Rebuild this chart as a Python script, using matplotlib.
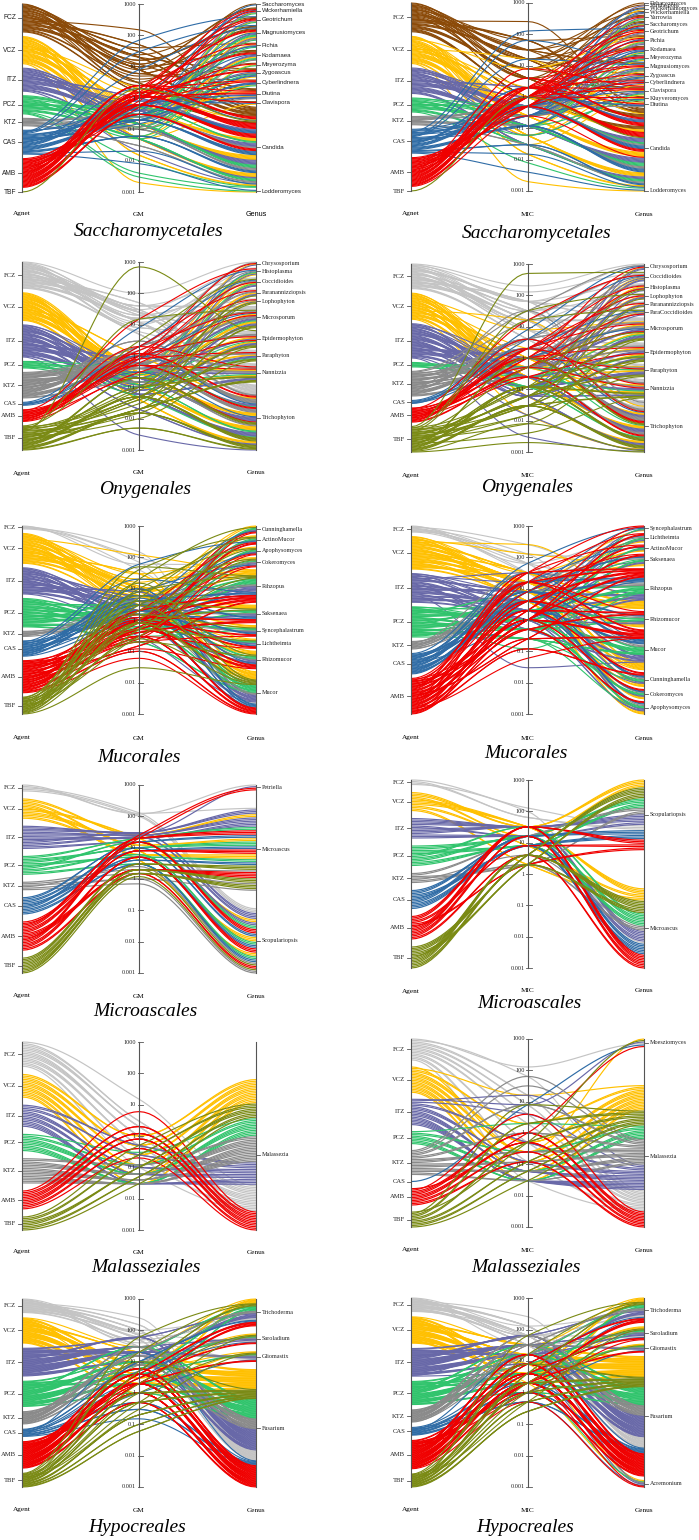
import matplotlib
matplotlib.use("Agg")
import matplotlib.pyplot as plt
from matplotlib.collections import LineCollection
import numpy as np

W, H = 699, 1540
AGENTS = ["FCZ", "VCZ", "ITZ", "PCZ", "KTZ", "CAS", "AMB", "TBF"]
REV = ["VCZ", "TBF", "PCZ", "KTZ", "ITZ", "FCZ", "CAS", "AMB"]
MIC_TICKS = [1000, 100, 10, 1, 0.1, 0.01, 0.001]
MIC_LABELS = ["1000", "100", "10", "1", "0.1", "0.01", "0.001"]

colors = {"FCZ": "#c4c4c4", "VCZ": "#ffc000", "ITZ": "#6868a8", "PCZ": "#30c46c",
          "KTZ": "#8a8a8a", "CAS": "#2f6ca6", "AMB": "#f00000", "TBF": "#7a8a14"}
fcz_brown = "#8b4a08"

# data: agent -> (genus index, GM/MIC value, number of isolates)
sac_gm_genera = ["Saccharomyces", "Wickerhamiella", "Geotrichum", "Magnusiomyces", "Pichia",
                 "Kodamaea", "Meyerozyma", "Zygoascus", "Cyberlindnera", "Diutina",
                 "Clavispora", "Candida", "Lodderomyces"]
sac_gm = {
    "FCZ": [(0, 3.2, 1), (1, 12, 2), (2, 24, 1), (2, 8, 1), (3, 16, 2), (3, 6, 2), (4, 40, 1), (5, 10, 2),
            (5, 4, 1), (6, 2.5, 1), (7, 20, 1), (7, 5, 1), (8, 6, 1), (9, 30, 2), (9, 12, 1), (10, 2, 1),
            (11, 150, 1), (11, 50, 2), (11, 20, 3), (11, 8, 4), (11, 3, 2), (11, 1.5, 2)],
    "VCZ": [(1, 0.3, 1), (2, 0.25, 1), (3, 0.5, 1), (3, 0.12, 2), (4, 0.6, 1), (5, 0.2, 2), (6, 0.06, 1),
            (7, 0.4, 1), (7, 0.1, 1), (8, 0.15, 1), (9, 1.5, 1), (9, 0.5, 1), (10, 0.05, 1), (11, 2, 1),
            (11, 0.5, 4), (11, 0.15, 6), (11, 0.05, 5), (11, 0.015, 2), (12, 0.002, 1)],
    "ITZ": [(1, 0.4, 1), (2, 0.5, 1), (3, 0.3, 2), (3, 0.12, 1), (4, 0.6, 1), (5, 0.25, 2), (7, 0.5, 1),
            (7, 0.2, 1), (8, 0.25, 1), (9, 0.8, 1), (9, 0.4, 1), (11, 1, 2), (11, 0.4, 5), (11, 0.15, 6),
            (11, 0.05, 2), (11, 0.02, 1)],
    "PCZ": [(1, 0.25, 1), (2, 0.2, 1), (3, 0.3, 2), (3, 0.06, 1), (4, 0.3, 1), (5, 0.12, 2), (6, 0.05, 1),
            (7, 0.25, 1), (8, 0.1, 1), (11, 0.5, 2), (11, 0.15, 4), (11, 0.05, 3), (11, 0.01, 1),
            (11, 0.004, 1), (12, 0.003, 1)],
    "KTZ": [(3, 0.12, 1), (5, 0.1, 1), (9, 0.25, 1), (11, 0.3, 2), (11, 0.1, 3), (11, 0.03, 2)],
    "CAS": [(0, 0.4, 1), (1, 1, 1), (2, 70, 1), (3, 30, 1), (3, 8, 1), (3, 0.5, 1), (4, 0.6, 1), (5, 0.5, 1),
            (7, 0.3, 1), (7, 0.15, 1), (8, 0.2, 2), (9, 0.6, 1), (9, 0.3, 1), (10, 0.8, 1), (11, 2, 1),
            (11, 0.6, 4), (11, 0.2, 5), (11, 0.06, 3), (11, 0.02, 1), (12, 0.008, 1)],
    "AMB": [(1, 1.5, 1), (1, 0.5, 1), (2, 2, 1), (2, 0.8, 1), (3, 1.2, 2), (4, 2, 1), (5, 1, 2), (6, 0.6, 1),
            (7, 1, 2), (8, 1.5, 1), (8, 0.6, 1), (9, 2.5, 1), (9, 1, 2), (10, 1.5, 1), (11, 2.5, 3),
            (11, 1.2, 7), (11, 0.6, 5), (11, 0.3, 3)],
    "TBF": [(11, 2, 1)],
}

sac_mic_genera = ["Debaryomyces", "Torulaspora", "Wickerhamomyces", "Wickerhamiella", "Yarrowia",
                  "Saccharomyces", "Geotrichum", "Pichia", "Kodamaea", "Meyerozyma", "Magnusiomyces",
                  "Zygoascus", "Cyberlindnera", "Clavispora", "Kluyveromyces", "Diutina", "Candida",
                  "Lodderomyces"]
sac_mic = {
    "FCZ": [(0, 8, 1), (1, 16, 1), (2, 4, 1), (3, 32, 1), (4, 16, 2), (5, 8, 1), (5, 2, 1), (6, 32, 1),
            (7, 64, 1), (7, 16, 1), (8, 8, 2), (9, 4, 1), (10, 32, 2), (11, 16, 1), (12, 8, 1), (13, 4, 2),
            (14, 32, 1), (15, 64, 1), (16, 256, 1), (16, 64, 2), (16, 16, 3), (16, 4, 4), (16, 1, 4)],
    "VCZ": [(2, 0.12, 1), (4, 0.25, 1), (5, 0.5, 1), (6, 1, 1), (7, 8, 1), (7, 0.25, 1), (8, 0.12, 1),
            (9, 0.06, 1), (10, 0.5, 1), (10, 0.12, 1), (11, 0.25, 1), (12, 0.06, 1), (13, 0.5, 1),
            (13, 0.03, 1), (14, 0.25, 1), (15, 2, 1), (16, 16, 1), (16, 1, 3), (16, 0.25, 6),
            (16, 0.06, 5), (16, 0.015, 2), (17, 0.002, 1)],
    "ITZ": [(1, 0.5, 1), (3, 0.25, 1), (4, 0.5, 1), (5, 1, 1), (6, 0.5, 1), (7, 0.5, 1), (7, 0.12, 1),
            (8, 0.25, 1), (9, 0.25, 1), (10, 0.5, 1), (10, 0.25, 1), (11, 0.5, 1), (12, 0.25, 1),
            (13, 0.25, 1), (13, 0.06, 1), (15, 1, 1), (16, 2, 2), (16, 0.5, 5), (16, 0.12, 6),
            (16, 0.03, 3)],
    "PCZ": [(4, 0.25, 1), (5, 0.5, 1), (7, 0.25, 1), (8, 0.12, 1), (9, 0.12, 1), (10, 0.25, 1),
            (13, 0.06, 1), (14, 0.12, 1), (16, 0.5, 2), (16, 0.12, 4), (16, 0.03, 3), (16, 0.008, 1)],
    "KTZ": [(6, 0.5, 1), (7, 0.25, 1), (10, 0.25, 1), (15, 0.5, 1), (16, 0.5, 2), (16, 0.12, 3),
            (16, 0.03, 2)],
    "CAS": [(2, 1, 1), (3, 0.5, 1), (5, 0.25, 1), (6, 128, 1), (7, 0.5, 1), (8, 0.25, 1), (8, 0.5, 1),
            (9, 1, 1), (10, 64, 1), (10, 16, 1), (11, 0.25, 1), (11, 0.12, 1), (12, 0.5, 1), (13, 0.5, 1),
            (14, 0.25, 1), (15, 1, 1), (16, 2, 2), (16, 0.5, 4), (16, 0.12, 4), (16, 0.03, 2),
            (16, 0.015, 1), (17, 0.004, 1)],
    "AMB": [(4, 1, 1), (5, 0.5, 1), (6, 2, 1), (6, 1, 1), (7, 1, 1), (7, 0.5, 1), (8, 2, 1), (8, 1, 1),
            (9, 1, 1), (9, 0.5, 1), (10, 2, 1), (10, 1, 1), (11, 1, 1), (12, 2, 1), (12, 0.5, 1),
            (13, 8, 1), (13, 2, 1), (13, 1, 1), (14, 1, 1), (15, 2, 1), (16, 4, 2), (16, 2, 4),
            (16, 1, 6), (16, 0.5, 3), (16, 0.25, 1)],
    "TBF": [(16, 1, 1)],
}

ony_gm_genera = ["Chrysosporium", "Histoplasma", "Coccidioides", "Paranannizziopsis", "Lophophyton",
                 "Microsporum", "Epidermophyton", "Paraphyton", "Nannizzia", "Trichophyton"]
ony_gm = {
    "FCZ": [(0, 100, 1), (1, 30, 1), (1, 10, 1), (2, 40, 1), (2, 15, 1), (3, 20, 2), (4, 12, 1), (5, 40, 2),
            (5, 16, 3), (6, 25, 2), (6, 8, 2), (7, 20, 2), (7, 6, 1), (8, 30, 2), (8, 12, 2), (9, 50, 2),
            (9, 25, 4), (9, 12, 4), (9, 5, 3)],
    "VCZ": [(0, 0.5, 1), (1, 0.3, 1), (1, 0.1, 1), (2, 0.5, 1), (2, 0.2, 1), (3, 0.25, 2), (4, 0.15, 1),
            (5, 0.6, 2), (5, 0.2, 3), (6, 0.3, 2), (6, 0.1, 2), (7, 0.25, 2), (8, 0.4, 2), (8, 0.12, 2),
            (9, 1, 2), (9, 0.3, 5), (9, 0.12, 6), (9, 0.04, 3)],
    "ITZ": [(0, 0.3, 1), (1, 0.5, 1), (1, 0.15, 1), (2, 0.2, 2), (3, 0.12, 2), (4, 0.1, 1), (5, 0.4, 3),
            (5, 0.1, 3), (6, 0.3, 2), (6, 0.08, 3), (7, 0.15, 3), (8, 0.3, 2), (8, 0.06, 3), (9, 0.6, 3),
            (9, 0.2, 6), (9, 0.06, 6), (9, 0.02, 2), (9, 0.003, 1)],
    "PCZ": [(1, 0.5, 1), (2, 0.25, 1), (5, 0.3, 1), (6, 0.2, 1), (7, 0.1, 1), (8, 0.15, 1), (9, 0.5, 1),
            (9, 0.12, 2), (9, 0.05, 1)],
    "KTZ": [(0, 2, 1), (1, 1.5, 1), (2, 1, 2), (3, 0.8, 2), (4, 0.6, 1), (5, 2, 2), (5, 0.5, 3), (6, 1, 3),
            (7, 0.6, 2), (8, 1.2, 2), (8, 0.4, 2), (9, 3, 2), (9, 1, 6), (9, 0.4, 5), (9, 0.15, 2)],
    "CAS": [(1, 8, 1), (2, 2, 1), (5, 0.8, 1), (9, 1, 1), (9, 0.3, 1)],
    "AMB": [(0, 1, 1), (1, 15, 1), (2, 0.8, 1), (3, 2, 1), (4, 1, 1), (5, 1.5, 1), (5, 0.6, 1), (6, 1, 1),
            (6, 0.3, 1), (7, 0.8, 1), (8, 2, 1), (8, 0.5, 1), (9, 1.2, 2), (9, 0.5, 2), (9, 0.2, 1)],
    "TBF": [(2, 3, 1), (3, 0.05, 1), (4, 0.1, 1), (4, 0.03, 1), (5, 15, 1), (5, 0.08, 1), (5, 0.02, 2),
            (6, 700, 1), (6, 0.05, 2), (6, 0.015, 1), (7, 0.04, 2), (7, 0.01, 1), (8, 0.1, 2),
            (8, 0.02, 3), (9, 0.2, 3), (9, 0.05, 5), (9, 0.015, 4), (9, 0.005, 2)],
}

ony_mic_genera = ["Chrysosporium", "Coccidioides", "Histoplasma", "Lophophyton", "Paranannizziopsis",
                  "ParaCoccidioides", "Microsporum", "Epidermophyton", "Paraphyton", "Nannizzia",
                  "Trichophyton"]
ony_mic = {
    "FCZ": [(0, 200, 1), (0, 64, 1), (1, 128, 1), (1, 32, 1), (2, 64, 1), (2, 16, 1), (3, 32, 1),
            (4, 16, 1), (5, 64, 1), (6, 64, 2), (6, 16, 3), (7, 32, 2), (7, 8, 2), (8, 16, 3), (9, 32, 2),
            (9, 8, 2), (10, 64, 2), (10, 16, 4), (10, 4, 3)],
    "VCZ": [(0, 0.5, 1), (1, 1, 1), (1, 0.25, 1), (2, 0.5, 2), (3, 0.25, 1), (4, 0.12, 1), (5, 0.5, 1),
            (6, 8, 1), (6, 1, 2), (6, 0.25, 2), (7, 0.5, 2), (7, 0.12, 2), (8, 2, 1), (8, 0.25, 2),
            (9, 0.5, 2), (9, 0.12, 2), (10, 16, 1), (10, 1, 3), (10, 0.25, 4), (10, 0.06, 3),
            (10, 0.015, 1)],
    "ITZ": [(0, 0.5, 1), (0, 0.12, 1), (1, 1, 1), (1, 0.25, 2), (2, 0.5, 1), (2, 0.06, 1), (3, 0.25, 2),
            (4, 0.12, 2), (5, 0.5, 1), (5, 0.12, 1), (6, 0.5, 3), (6, 0.12, 4), (7, 0.25, 3), (7, 0.06, 2),
            (8, 0.12, 4), (9, 0.25, 3), (9, 0.06, 2), (10, 1, 3), (10, 0.25, 5), (10, 0.06, 3),
            (10, 0.015, 1), (10, 0.003, 1)],
    "PCZ": [(6, 0.25, 1), (7, 0.12, 1), (8, 0.5, 1), (9, 0.25, 1), (10, 0.5, 1), (10, 0.12, 2)],
    "KTZ": [(0, 32, 1), (1, 16, 1), (1, 2, 1), (2, 4, 1), (3, 1, 1), (4, 2, 1), (5, 1, 1), (6, 4, 2),
            (6, 1, 3), (7, 2, 2), (7, 0.5, 2), (8, 1, 2), (9, 2, 2), (9, 0.5, 2), (10, 32, 1), (10, 4, 3),
            (10, 1, 5), (10, 0.25, 3)],
    "CAS": [(0, 8, 1), (1, 4, 1), (5, 2, 1), (6, 1, 1), (10, 2, 1)],
    "AMB": [(0, 1, 1), (1, 16, 1), (2, 2, 1), (2, 0.5, 1), (3, 1, 1), (4, 2, 1), (5, 0.5, 1), (6, 2, 1),
            (6, 0.5, 1), (7, 1, 1), (7, 0.25, 1), (8, 1, 1), (9, 2, 1), (9, 0.5, 1), (10, 4, 1),
            (10, 1, 3), (10, 0.25, 2)],
    "TBF": [(1, 500, 1), (2, 0.12, 1), (3, 32, 1), (3, 0.06, 1), (4, 0.03, 1), (5, 16, 1), (6, 0.5, 1),
            (6, 0.06, 2), (6, 0.015, 1), (7, 0.12, 2), (7, 0.03, 2), (7, 0.008, 1), (8, 0.06, 2),
            (8, 0.015, 1), (9, 0.12, 2), (9, 0.03, 2), (9, 0.004, 1), (10, 1, 2), (10, 0.12, 4),
            (10, 0.03, 4), (10, 0.008, 1), (10, 0.002, 1)],
}

muc_gm_genera = ["Cunninghamella", "ActinoMucor", "Apophysomyces", "Cokeromyces", "Rihzopus",
                 "Saksenaea", "Syncephalastrum", "Lichtheimta", "Rhizomucor", "Mucor"]
muc_gm = {
    "FCZ": [(3, 60, 1), (4, 100, 1), (7, 40, 1), (9, 150, 1), (9, 70, 1)],
    "VCZ": [(0, 8, 1), (0, 3, 1), (1, 16, 1), (1, 4, 1), (2, 10, 1), (2, 5, 1), (3, 30, 1), (3, 6, 1),
            (4, 120, 1), (4, 20, 2), (4, 8, 3), (4, 3, 2), (5, 12, 2), (5, 4, 3), (6, 6, 2), (6, 2, 1),
            (7, 8, 1), (7, 3, 1), (8, 10, 2), (8, 3, 3), (9, 30, 2), (9, 10, 4), (9, 4, 3), (9, 1.5, 2)],
    "ITZ": [(0, 2, 1), (0, 0.8, 1), (1, 3, 1), (1, 1, 1), (2, 1.5, 2), (3, 4, 1), (3, 1, 1), (4, 6, 2),
            (4, 2, 3), (4, 0.8, 2), (5, 3, 2), (5, 1, 2), (6, 2, 2), (7, 1.5, 2), (8, 4, 2), (8, 1, 2),
            (9, 8, 2), (9, 3, 4), (9, 1, 3), (9, 0.3, 1)],
    "PCZ": [(0, 1, 1), (0, 0.4, 1), (1, 1.5, 1), (1, 0.5, 1), (2, 0.8, 2), (3, 2, 1), (3, 0.6, 1),
            (4, 3, 2), (4, 1, 4), (4, 0.4, 2), (5, 1.5, 2), (5, 0.5, 2), (6, 1, 2), (6, 0.3, 1),
            (7, 0.8, 2), (8, 2, 2), (8, 0.6, 2), (9, 4, 2), (9, 1.5, 4), (9, 0.6, 3), (9, 0.2, 2)],
    "KTZ": [(3, 2, 1), (4, 3, 1), (4, 1, 1), (5, 1.5, 1), (6, 0.8, 1), (8, 2, 1), (9, 4, 1), (9, 1, 1)],
    "CAS": [(0, 3, 1), (1, 60, 1), (2, 2, 1), (3, 8, 1), (4, 20, 1), (4, 4, 2), (4, 1, 1), (5, 6, 2),
            (5, 1.5, 1), (6, 3, 2), (7, 2, 2), (8, 5, 1), (8, 1, 1), (9, 10, 2), (9, 3, 2), (9, 0.8, 1)],
    "AMB": [(0, 1, 1), (0, 0.3, 1), (1, 2, 1), (1, 0.6, 2), (2, 0.8, 1), (2, 0.25, 1), (3, 1, 1),
            (3, 0.3, 1), (4, 2, 2), (4, 1, 3), (4, 0.5, 3), (4, 0.15, 2), (5, 1.2, 2), (5, 0.4, 3),
            (6, 0.8, 2), (6, 0.2, 1), (7, 1, 2), (7, 0.3, 1), (8, 1.5, 2), (8, 0.5, 3), (8, 0.12, 1),
            (9, 0.8, 3), (9, 0.3, 3), (9, 0.1, 2), (9, 0.06, 1)],
    "TBF": [(0, 20, 1), (1, 40, 1), (1, 5, 1), (2, 10, 1), (2, 1, 1), (3, 3, 1), (3, 0.5, 1), (4, 50, 1),
            (4, 8, 1), (4, 2, 1), (4, 0.3, 1), (5, 4, 1), (5, 0.8, 1), (6, 1.5, 1), (7, 0.5, 1), (8, 6, 1),
            (8, 0.2, 1), (9, 15, 1), (9, 3, 2), (9, 0.8, 2), (9, 0.25, 1), (9, 0.03, 1)],
}

muc_mic_genera = ["Syncephalastrum", "Lichtheimta", "ActinoMucor", "Saksenaea", "Rihzopus",
                  "Rhizomucor", "Mucor", "Cunninghamella", "Cokeromyces", "Apophysomyces"]
muc_mic = {
    "FCZ": [(1, 64, 1), (3, 128, 1), (4, 256, 1), (4, 64, 1), (5, 32, 1), (6, 128, 1), (6, 64, 1),
            (7, 64, 1), (9, 32, 1)],
    "VCZ": [(0, 16, 1), (1, 32, 1), (1, 8, 1), (2, 16, 2), (3, 128, 1), (3, 16, 2), (4, 256, 1),
            (4, 32, 3), (4, 16, 4), (4, 8, 3), (5, 16, 2), (5, 8, 2), (6, 32, 2), (6, 16, 4), (6, 8, 3),
            (6, 4, 1), (7, 16, 2), (7, 4, 2), (8, 8, 3), (9, 16, 2), (9, 4, 2)],
    "ITZ": [(0, 4, 1), (1, 8, 1), (1, 2, 1), (2, 4, 1), (3, 16, 1), (3, 2, 2), (4, 32, 1), (4, 8, 3),
            (4, 2, 3), (4, 0.5, 2), (5, 4, 2), (5, 1, 2), (6, 8, 3), (6, 2, 4), (6, 0.5, 2), (6, 0.03, 1),
            (7, 4, 2), (7, 1, 1), (8, 2, 2), (9, 4, 2), (9, 1, 2)],
    "PCZ": [(0, 1, 1), (1, 2, 1), (1, 0.5, 1), (2, 1, 2), (3, 4, 1), (3, 1, 2), (4, 8, 2), (4, 2, 4),
            (4, 0.5, 3), (4, 0.12, 1), (5, 2, 2), (5, 0.5, 2), (6, 4, 2), (6, 1, 5), (6, 0.25, 3),
            (7, 1, 2), (7, 0.25, 1), (8, 0.5, 3), (9, 1, 2), (9, 0.25, 1)],
    "KTZ": [(1, 8, 1), (3, 16, 1), (4, 32, 1), (4, 8, 2), (5, 4, 1), (6, 16, 1), (6, 4, 1), (7, 8, 1),
            (8, 2, 1), (9, 4, 1)],
    "CAS": [(0, 64, 1), (0, 8, 1), (1, 4, 1), (2, 16, 1), (3, 8, 2), (4, 16, 2), (4, 4, 3), (4, 1, 1),
            (5, 8, 2), (6, 32, 1), (6, 8, 3), (6, 2, 3), (7, 4, 3), (8, 2, 2), (9, 4, 2)],
    "AMB": [(0, 32, 1), (0, 2, 1), (1, 16, 1), (1, 1, 2), (2, 32, 1), (2, 2, 2), (3, 8, 1), (3, 1, 2),
            (4, 32, 2), (4, 16, 2), (4, 4, 3), (4, 1, 3), (4, 0.25, 2), (5, 16, 1), (5, 2, 2),
            (5, 0.5, 2), (6, 16, 2), (6, 4, 3), (6, 1, 4), (6, 0.25, 2), (6, 0.06, 1), (7, 2, 2),
            (7, 0.12, 2), (8, 1, 2), (9, 0.5, 2)],
}

mas_gm_genera = ["Petriella", "Microascus", "Scopulariopsis"]
mas_gm = {
    "FCZ": [(0, 120, 1), (1, 125, 1), (2, 130, 1), (2, 110, 1), (2, 100, 1)],
    "VCZ": [(1, 25, 2), (1, 12, 2), (1, 6, 3), (2, 20, 2), (2, 8, 3), (2, 4, 2)],
    "ITZ": [(0, 28, 1), (1, 30, 3), (1, 25, 3), (1, 20, 3), (2, 30, 2), (2, 22, 2), (2, 15, 2)],
    "PCZ": [(1, 20, 2), (1, 10, 3), (1, 5, 2), (2, 15, 2), (2, 6, 2), (2, 3, 2)],
    "KTZ": [(1, 2, 1), (1, 1.5, 1), (1, 1, 1), (2, 2.5, 1), (2, 1, 1), (2, 0.7, 1)],
    "CAS": [(1, 15, 2), (1, 8, 2), (1, 4, 2), (2, 10, 2), (2, 5, 2), (2, 3, 2)],
    "AMB": [(0, 25, 1), (0, 20, 1), (1, 20, 3), (1, 8, 3), (1, 2, 4), (2, 15, 3), (2, 5, 3), (2, 1.5, 2)],
    "TBF": [(1, 3, 3), (1, 2, 3), (1, 1.5, 3), (2, 2, 1), (2, 1.2, 1)],
}

mas_mic_genera = ["Scopulariopsis", "Microascus"]
mas_mic = {
    "FCZ": [(0, 128, 1), (0, 64, 2), (1, 100, 1)],
    "VCZ": [(0, 32, 3), (0, 16, 2), (1, 32, 4), (1, 8, 2), (1, 2, 2)],
    "ITZ": [(0, 32, 5), (0, 16, 2), (1, 32, 4), (1, 16, 3)],
    "PCZ": [(0, 16, 3), (0, 8, 3), (1, 32, 2), (1, 16, 3), (1, 8, 3)],
    "KTZ": [(0, 16, 2), (0, 2, 2), (1, 4, 1), (1, 2, 2)],
    "CAS": [(0, 16, 3), (0, 8, 3), (1, 16, 3), (1, 8, 4)],
    "AMB": [(0, 32, 3), (0, 8, 2), (0, 2, 2), (1, 32, 4), (1, 16, 3), (1, 4, 2)],
    "TBF": [(0, 4, 4), (0, 2, 3), (1, 4, 5), (1, 2, 3)],
}

mal_gm_genera = ["Malassezia"]
mal_gm = {
    "FCZ": [(0, 15, 1), (0, 3, 2), (0, 2, 3), (0, 1, 4), (0, 0.5, 3), (0, 0.2, 2), (0, 0.1, 1)],
    "VCZ": [(0, 1, 2), (0, 0.5, 3), (0, 0.25, 3), (0, 0.12, 3), (0, 0.06, 2), (0, 0.03, 2)],
    "ITZ": [(0, 0.5, 2), (0, 0.25, 2), (0, 0.1, 3), (0, 0.06, 3), (0, 0.03, 4)],
    "PCZ": [(0, 0.3, 1), (0, 0.12, 2), (0, 0.06, 4), (0, 0.03, 4)],
    "KTZ": [(0, 0.12, 2), (0, 0.06, 4), (0, 0.04, 5), (0, 0.03, 5)],
    "AMB": [(0, 6, 1), (0, 2, 2), (0, 1.2, 3), (0, 0.8, 3), (0, 0.4, 2), (0, 0.2, 1)],
    "TBF": [(0, 0.5, 1), (0, 0.25, 2), (0, 0.1, 3), (0, 0.05, 2), (0, 0.03, 1)],
}

mal_mic_genera = ["Moesziomyces", "Malassezia"]
mal_mic = {
    "FCZ": [(0, 128, 1), (1, 64, 1), (1, 16, 2), (1, 8, 2), (1, 4, 2), (1, 2, 2), (1, 0.5, 2),
            (1, 0.12, 2), (1, 0.03, 1)],
    "VCZ": [(0, 0.25, 1), (1, 16, 1), (1, 2, 2), (1, 0.5, 3), (1, 0.25, 3), (1, 0.12, 3), (1, 0.06, 3),
            (1, 0.03, 2)],
    "ITZ": [(0, 8, 1), (1, 16, 1), (1, 4, 1), (1, 0.5, 2), (1, 0.12, 3), (1, 0.06, 4), (1, 0.03, 6)],
    "PCZ": [(1, 2, 1), (1, 0.25, 2), (1, 0.06, 3), (1, 0.03, 3)],
    "KTZ": [(1, 64, 1), (1, 32, 1), (1, 8, 2), (1, 1, 2), (1, 0.25, 3), (1, 0.12, 3), (1, 0.06, 3),
            (1, 0.03, 2)],
    "CAS": [(0, 8, 1)],
    "AMB": [(0, 1, 1), (1, 4, 1), (1, 1, 3), (1, 0.5, 3), (1, 0.25, 2), (1, 0.12, 2)],
    "TBF": [(0, 0.5, 1), (1, 8, 1), (1, 2, 2), (1, 0.5, 2), (1, 0.12, 2), (1, 0.06, 2), (1, 0.03, 1)],
}

hyp_gm_genera = ["Trichoderma", "Saroladium", "Gliomastix", "Fusarium"]
hyp_gm = {
    "FCZ": [(0, 100, 1), (0, 50, 2), (1, 80, 1), (1, 40, 1), (2, 60, 1), (2, 30, 1), (3, 250, 1),
            (3, 150, 2), (3, 100, 3), (3, 70, 4), (3, 50, 3), (3, 30, 2)],
    "VCZ": [(0, 30, 1), (0, 8, 3), (0, 3, 3), (1, 10, 1), (1, 4, 1), (2, 6, 1), (2, 2, 1), (3, 20, 3),
            (3, 8, 8), (3, 4, 9), (3, 2, 6), (3, 1, 3)],
    "ITZ": [(0, 60, 2), (0, 20, 5), (1, 30, 2), (1, 16, 1), (2, 20, 3), (3, 60, 4), (3, 30, 10),
            (3, 20, 12), (3, 10, 5)],
    "PCZ": [(0, 20, 2), (0, 6, 3), (0, 2, 2), (1, 8, 2), (2, 4, 2), (3, 30, 3), (3, 10, 8), (3, 4, 10),
            (3, 2, 6), (3, 1, 2)],
    "KTZ": [(0, 20, 2), (0, 8, 1), (1, 10, 1), (2, 15, 1), (3, 30, 3), (3, 15, 6), (3, 8, 4), (3, 4, 2)],
    "CAS": [(0, 10, 2), (0, 3, 1), (1, 5, 1), (2, 1, 1), (3, 20, 1), (3, 2, 1), (3, 0.5, 2), (3, 0.3, 2),
            (3, 0.15, 1)],
    "AMB": [(0, 4, 3), (0, 2, 3), (1, 3, 2), (2, 2, 2), (3, 6, 4), (3, 4, 8), (3, 2, 10), (3, 1, 7),
            (3, 0.5, 3)],
    "TBF": [(0, 60, 1), (0, 20, 1), (0, 5, 2), (1, 2, 1), (1, 0.5, 1), (2, 1, 1), (2, 0.3, 1), (3, 10, 1),
            (3, 1, 3), (3, 0.5, 3), (3, 0.2, 3), (3, 0.1, 2), (3, 0.06, 2)],
}

hyp_mic_genera = ["Trichoderma", "Saroladium", "Gliomastix", "Fusarium", "Acremonium"]
hyp_mic = {
    "FCZ": [(0, 128, 1), (0, 64, 2), (1, 64, 1), (1, 32, 1), (2, 64, 1), (3, 256, 1), (3, 128, 4),
            (3, 64, 6), (3, 32, 4), (4, 64, 1)],
    "VCZ": [(0, 32, 1), (0, 8, 3), (0, 2, 2), (1, 8, 2), (1, 4, 1), (2, 4, 2), (3, 32, 3), (3, 16, 7),
            (3, 8, 9), (3, 4, 7), (3, 2, 3), (4, 8, 1), (4, 2, 1)],
    "ITZ": [(0, 64, 2), (0, 16, 4), (1, 32, 2), (1, 16, 2), (2, 32, 2), (3, 64, 5), (3, 32, 12),
            (3, 16, 9), (3, 8, 4), (4, 32, 1), (4, 4, 1)],
    "PCZ": [(0, 16, 2), (0, 4, 3), (1, 8, 2), (1, 2, 1), (2, 4, 2), (3, 32, 3), (3, 16, 6), (3, 4, 9),
            (3, 2, 6), (3, 1, 2), (4, 1, 1)],
    "KTZ": [(0, 32, 2), (0, 16, 1), (1, 16, 1), (2, 32, 1), (3, 64, 3), (3, 32, 6), (3, 16, 4),
            (3, 8, 1), (4, 16, 1)],
    "CAS": [(0, 8, 1), (0, 2, 1), (1, 4, 1), (2, 1, 1), (3, 16, 1), (3, 2, 2), (3, 1, 3), (3, 0.5, 2),
            (4, 0.5, 1)],
    "AMB": [(0, 8, 2), (0, 2, 4), (1, 4, 2), (1, 1, 1), (2, 2, 2), (3, 16, 4), (3, 8, 8), (3, 4, 10),
            (3, 2, 7), (3, 1, 3), (4, 2, 1), (4, 0.5, 1)],
    "TBF": [(0, 64, 1), (0, 16, 1), (0, 4, 2), (1, 2, 1), (1, 0.5, 1), (2, 1, 1), (3, 8, 2), (3, 2, 3),
            (3, 1, 3), (3, 0.5, 3), (3, 0.25, 3)],
}

# layout: (agent x, genus x, top y, bottom y, axis-name y, title y, title x)  in pixels
panels = [
    (sac_gm, sac_gm_genera, "GM", "Saccharomycetales", (22, 256, 4, 192, 214, 232, 149), "mic", 0.012, 0.0, 0.02),
    (sac_mic, sac_mic_genera, "MIC", "Saccharomycetales", (411, 644, 3, 191, 214, 233, 537), "mic", 0.006, 0.0, 0.02),
    (ony_gm, ony_gm_genera, "GM", "Onygenales", (22, 256, 262, 450, 473, 489, 145), "mic", 0.012, 0.0, 0.02),
    (ony_mic, ony_mic_genera, "MIC", "Onygenales", (411, 644, 264, 452, 475, 488, 527), "mic", 0.012, 0.0, 0.02),
    (muc_gm, muc_gm_genera, "GM", "Mucorales", (22, 256, 526, 714, 738, 757, 139), REV, 0.012, 0.0, 0.02),
    (muc_mic, muc_mic_genera, "MIC", "Mucorales", (411, 644, 526, 714, 738, 754, 526),
     ["AMB", "CAS", "FCZ", "KTZ", "PCZ", "ITZ", "VCZ", "TBF"], 0.012, 0.0, 0.02),
    (mas_gm, mas_gm_genera, "GM", "Microascales", (22, 256, 785, 973, 996, 1012, 145), "mic", 0.09, 0.0, 0.035),
    (mas_mic, mas_mic_genera, "MIC", "Microascales", (411, 644, 780, 968, 991, 1004, 529), REV, 0.2, 0.0, 0.035),
    (mal_gm, mal_gm_genera, "GM", "Malasseziales", (22, 256, 1042, 1230, 1252, 1268, 146), REV, 0.0, 0.2, 0.035),
    (mal_mic, mal_mic_genera, "MIC", "Malasseziales", (411, 644, 1039, 1227, 1250, 1267, 526), REV, 0.2, 0.0, 0.03),
    (hyp_gm, hyp_gm_genera, "GM", "Hypocreales", (22, 256, 1299, 1487, 1510, 1528, 137), REV, 0.04, 0.0, 0.025),
    (hyp_mic, hyp_mic_genera, "MIC", "Hypocreales", (411, 644, 1298, 1487, 1510, 1527, 525), REV, 0.02, 0.0, 0.025),
]

SERIF = ["Liberation Serif", "DejaVu Serif"]
SANS = ["Liberation Sans", "DejaVu Sans"]


def stack(lines, group_of, groups, sort_key, gap, top=0.0):
    """evenly stack lines top->bottom, grouped, with a gap between groups"""
    order = sorted(range(len(lines)), key=lambda i: (groups.index(group_of(lines[i])), sort_key(lines[i])))
    present = [g for g in groups if any(group_of(l) == g for l in lines)]
    span = 6.0 * (1 - top) - 6.0 * gap * (len(present) - 1)
    step = span / max(len(lines) - 1, 1)
    y = np.zeros(len(lines))
    cur, prev = 3.0 - 6.0 * top, None
    pos = {}
    for i in order:
        g = group_of(lines[i])
        if prev is not None:
            cur -= step
            if g != prev:
                cur -= 6.0 * gap
        y[i] = cur
        prev = g
        pos.setdefault(g, []).append(cur)
    return y, {g: np.mean(v) for g, v in pos.items()}


def hermite(y0, y1, m0, m1, t):
    return ((2 * t**3 - 3 * t**2 + 1) * y0 + (t**3 - 2 * t**2 + t) * m0
            + (-2 * t**3 + 3 * t**2) * y1 + (t**3 - t**2) * m1)


fig = plt.figure(figsize=(W / 100, H / 100), dpi=100)
t = np.linspace(0, 1, 24)

for pi, (data, genera, measure, title, geom, order, ggap, gtop, agap) in enumerate(panels):
    xa, xg, ytop, ybot, ylab, ytit, xtit = geom
    ax = fig.add_axes([xa / W, 1 - ybot / H, (xg - xa) / W, (ybot - ytop) / H])
    ax.set_xlim(0, 2)
    ax.set_ylim(-3, 3)
    ax.axis("off")

    lines = [(a, g, v) for a in AGENTS for (g, v, n) in data.get(a, []) for _ in range(n)]
    ya, acent = stack(lines, lambda l: l[0], AGENTS, lambda l: (l[1], -l[2]), agap)
    if order == "mic":
        gkey = lambda l: (-l[2], AGENTS.index(l[0]))
    else:
        gkey = lambda l: (order.index(l[0]), -l[2])
    yg, gcent = stack(lines, lambda l: l[1], list(range(len(genera))), gkey, ggap, gtop)

    segs, cols = [], []
    for i, (a, g, v) in enumerate(lines):
        ym = np.log10(v)
        d1, d2 = ym - ya[i], yg[i] - ym
        mm = 2 * d1 * d2 / (d1 + d2) if d1 * d2 > 0 else 0.0
        y1 = hermite(ya[i], ym, 0.0, mm, t)
        y2 = hermite(ym, yg[i], mm, 0.0, t)
        xs = np.concatenate([t, 1 + t[1:]])
        ys = np.concatenate([y1, y2[1:]])
        segs.append(np.column_stack([xs, ys]))
        c = colors[a]
        if a == "FCZ" and pi < 2:
            c = fcz_brown
        cols.append(c)
    lw = 0.85 if len(lines) < 130 else 0.8
    ax.add_collection(LineCollection(segs, colors=cols, linewidths=lw, zorder=2, clip_on=False))

    tick_font = SANS if pi == 0 else SERIF
    for x in (0, 1, 2):
        ax.plot([x, x], [-3, 3], color="#555555", lw=0.8, zorder=4, clip_on=False)
    for a, yc in acent.items():
        ax.plot([-0.035, 0], [yc, yc], color="#555555", lw=0.6, clip_on=False, zorder=4)
        ax.text(-0.05, yc, a, ha="right", va="center", fontsize=4.8, family=tick_font, color="#222222")
    for v, s in zip(MIC_TICKS, MIC_LABELS):
        yv = np.log10(v)
        ax.plot([0.99, 1.035], [yv, yv], color="#555555", lw=0.6, clip_on=False, zorder=4)
        ax.text(0.975, yv, s, ha="right", va="center", fontsize=4.5, family=SERIF, color="#222222", zorder=5)
    for g, yc in gcent.items():
        ax.plot([2, 2.035], [yc, yc], color="#555555", lw=0.6, clip_on=False, zorder=4)
        ax.text(2.05, yc, genera[g], ha="left", va="center", fontsize=4.4, family=tick_font, color="#222222")

    xm = (xa + xg) / 2
    agent_word = "Agnet" if pi < 2 else "Agent"
    fig.text(xa / W, 1 - ylab / H, agent_word, ha="center", va="center", fontsize=5.2, family=SERIF)
    fig.text(xm / W, 1 - ylab / H, measure, ha="center", va="center", fontsize=5.2, family=SERIF)
    fig.text(xg / W, 1 - ylab / H, "Genus", ha="center", va="center", fontsize=5.2,
             family=SANS if pi == 0 else SERIF)
    fig.text(xtit / W, 1 - ytit / H, title, ha="center", va="center", fontsize=14,
             family=SERIF, style="italic")

fig.savefig("out.png", dpi=100)
